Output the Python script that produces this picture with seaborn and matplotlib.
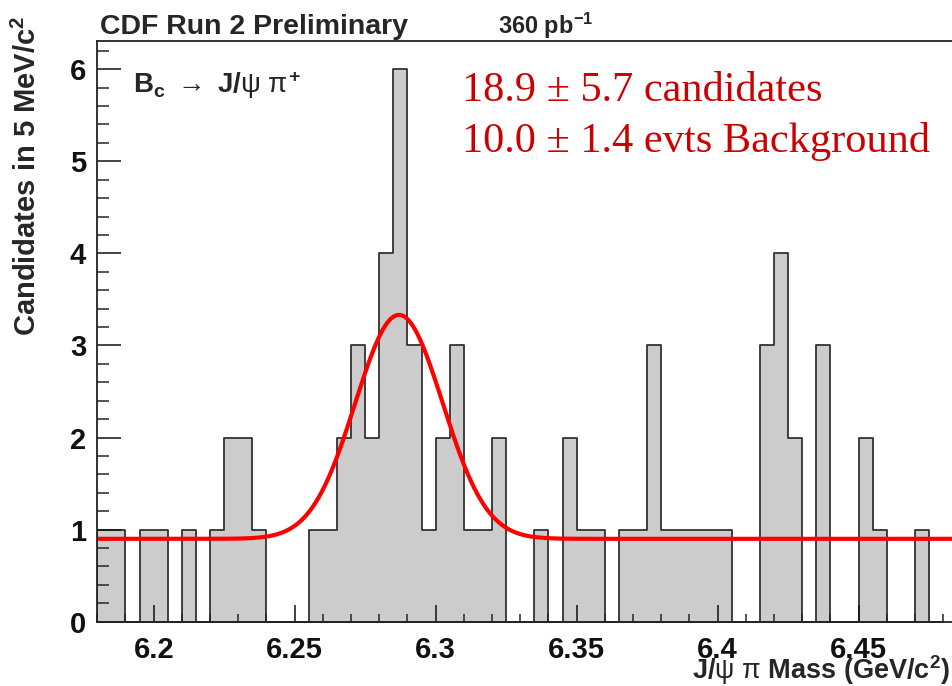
import numpy as np
import pandas as pd
import matplotlib
matplotlib.use("Agg")
import matplotlib.pyplot as plt
from matplotlib.ticker import MultipleLocator
import seaborn as sns

# J/psi pi invariant-mass spectrum, 5 MeV/c^2 bins
mass_lo, mass_hi, bin_width = 6.18, 6.48, 0.005
counts = [1, 1, 0, 1, 1, 0, 1, 0, 1, 2,
          2, 1, 0, 0, 0, 1, 1, 2, 3, 2,
          4, 6, 3, 1, 2, 3, 1, 1, 2, 0,
          0, 1, 0, 2, 1, 1, 0, 1, 1, 3,
          1, 1, 1, 1, 1, 0, 0, 3, 4, 2,
          0, 3, 0, 0, 2, 1, 0, 0, 1, 0]

# Gaussian signal on a flat background
fit_signal, fit_signal_err = 18.9, 5.7
fit_bkg, fit_bkg_err = 10.0, 1.4
fit_mean = 6.287
fit_sigma = 0.0155
fit_bkg_per_bin = 0.9

x_ticks = [6.2, 6.25, 6.3, 6.35, 6.4, 6.45]
x_tick_labels = ["6.2", "6.25", "6.3", "6.35", "6.4", "6.45"]
y_ticks = [0, 1, 2, 3, 4, 5, 6]
y_tick_labels = ["0", "1", "2", "3", "4", "5", "6"]

sns.set_style("ticks")
plt.rcParams["font.family"] = ["Liberation Sans", "DejaVu Sans"]
plt.rcParams["mathtext.fontset"] = "custom"
plt.rcParams["mathtext.rm"] = "Liberation Sans"
plt.rcParams["mathtext.it"] = "Liberation Sans"
plt.rcParams["mathtext.bf"] = "Liberation Sans:bold"

W, H = 953, 686
fig = plt.figure(figsize=(W / 100, H / 100), dpi=100)
ax_left, ax_bottom, ax_top = 97.3, 621.7, 40.7
ax = fig.add_axes([ax_left / W, 1 - ax_bottom / H, 1 - ax_left / W, (ax_bottom - ax_top) / H])
ax.set_axisbelow(False)

n_bins = len(counts)
centers = mass_lo + bin_width * (np.arange(n_bins) + 0.5)
df = pd.DataFrame({"mass": centers, "n": counts})
sns.histplot(data=df, x="mass", weights="n", bins=n_bins, binrange=(mass_lo, mass_hi),
             element="step", fill=True, color="#cccccc", edgecolor="#333333",
             linewidth=1.3, alpha=1, ax=ax, zorder=1)

x_max = 6.4835
xs = np.linspace(mass_lo, x_max, 800)
amp = fit_signal * bin_width / (fit_sigma * np.sqrt(2 * np.pi))
ys = fit_bkg_per_bin + amp * np.exp(-0.5 * ((xs - fit_mean) / fit_sigma) ** 2)
sns.lineplot(x=xs, y=ys, color="#ff0000", linewidth=3, ax=ax, zorder=4)

ax.set_xlim(mass_lo, x_max)
ax.set_ylim(0, 6.31)
ax.set_xlabel("")
ax.set_ylabel("")
ax.set_xticks(x_ticks)
ax.set_xticklabels(x_tick_labels)
ax.set_yticks(y_ticks)
ax.set_yticklabels(y_tick_labels)
ax.xaxis.set_minor_locator(MultipleLocator(0.01))
ax.yaxis.set_minor_locator(MultipleLocator(0.2))
ax.tick_params(axis="x", which="major", direction="in", length=12, width=1.1, pad=10)
ax.tick_params(axis="x", which="minor", direction="in", length=6, width=1.1)
ax.tick_params(axis="y", which="major", direction="in", length=17, width=1.1, pad=8)
ax.tick_params(axis="y", which="minor", direction="in", length=8.5, width=1.1)
ax.tick_params(top=False, right=False, labelsize=21, colors="#111111")
for lbl in ax.get_xticklabels() + ax.get_yticklabels():
    lbl.set_fontweight("bold")
for side in ["left", "bottom", "top"]:
    ax.spines[side].set_color("#222222")
    ax.spines[side].set_linewidth(1.3)
    ax.spines[side].set_zorder(5)
ax.spines["right"].set_visible(False)


def fx(px):
    return px / W


def fy(py):
    return 1 - py / H


fig.text(fx(100), fy(34), "CDF Run 2 Preliminary", fontsize=20.5,
         fontweight="bold", va="baseline", ha="left")
fig.text(fx(498), fy(34), r"360 pb$^{\mathbf{-1}}$", fontsize=17,
         fontweight="bold", va="baseline", ha="left")
fig.text(fx(133), fy(93.3), r"$\mathbf{B_{c}}$ $\rightarrow$ $\mathbf{J/}\psi\ \pi^{\mathbf{+}}$",
         fontsize=20, fontweight="bold", va="baseline", ha="left")
fig.text(fx(27), fy(176), r"Candidates in 5 MeV/c$^{\mathbf{2}}$", fontsize=21,
         fontweight="bold", rotation=90, ha="center", va="center")
fig.text(fx(950), fy(679), r"J/$\psi\ \pi$ Mass (GeV/c$^{\mathbf{2}}$)", fontsize=19.5,
         fontweight="bold", ha="right", va="baseline")

red = "#cc0000"
fig.text(fx(462), fy(100.7), f"{fit_signal:.1f} \u00b1 {fit_signal_err:.1f} candidates",
         family="Liberation Serif", fontsize=30.5, color=red, va="baseline", ha="left")
fig.text(fx(462), fy(151.7), f"{fit_bkg:.1f} \u00b1 {fit_bkg_err:.1f} evts Background",
         family="Liberation Serif", fontsize=30.5, color=red, va="baseline", ha="left")

fig.savefig("out.png", dpi=100)
